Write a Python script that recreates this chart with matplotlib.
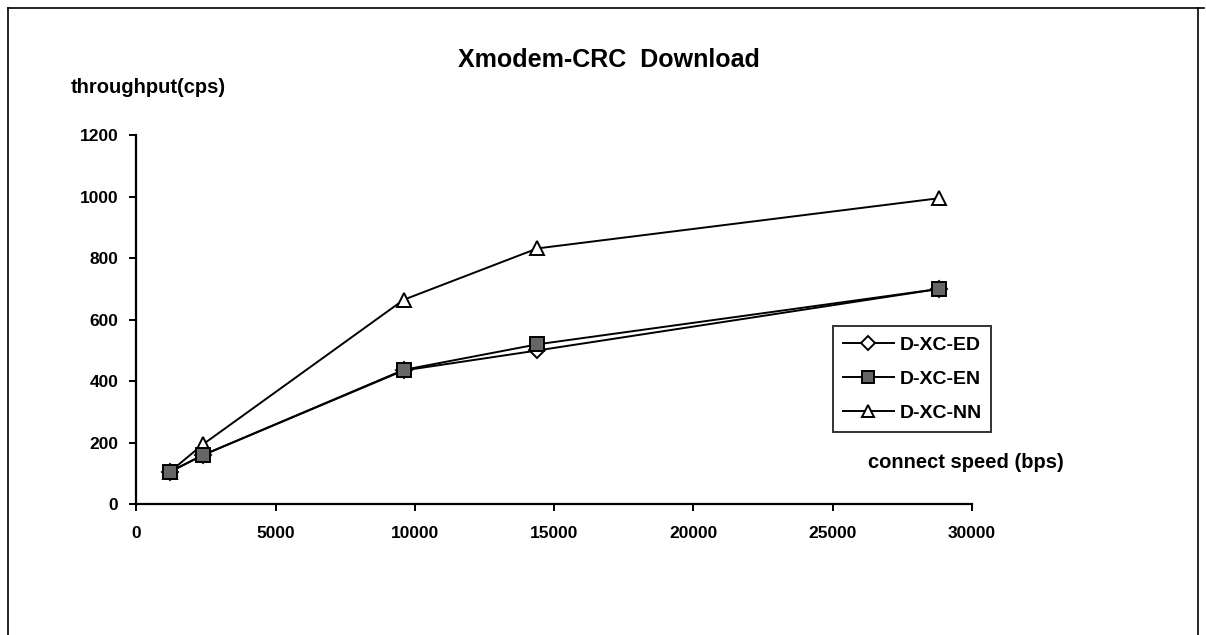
import matplotlib.pyplot as plt
from matplotlib.lines import Line2D

plt.rcParams['font.family'] = ['Liberation Sans', 'DejaVu Sans']
plt.rcParams['font.weight'] = 'bold'

# data
speeds = [1200, 2400, 9600, 14400, 28800]
ed = [105, 160, 435, 500, 700]
en = [105, 160, 437, 520, 700]
nn = [105, 195, 665, 832, 995]
x_ticks = [0, 5000, 10000, 15000, 20000, 25000, 30000]
y_ticks = [0, 200, 400, 600, 800, 1000, 1200]

fig = plt.figure(figsize=(12.06, 6.35), dpi=100)
ax = fig.add_axes([0.113, 0.206, 0.693, 0.581])

ax.plot(speeds, ed, color='black', lw=1.4, marker='D', ms=8,
        mfc='white', mec='black', mew=1.4, label='D-XC-ED', zorder=3)
ax.plot(speeds, en, color='black', lw=1.4, marker='s', ms=10,
        mfc='#666666', mec='black', mew=1.4, label='D-XC-EN', zorder=4)
ax.plot(speeds, nn, color='black', lw=1.4, marker='^', ms=10.5,
        mfc='white', mec='black', mew=1.4, label='D-XC-NN', zorder=3)

ax.set_xlim(0, 30000)
ax.set_ylim(0, 1200)
ax.set_xticks(x_ticks)
ax.set_yticks(y_ticks)
ax.tick_params(direction='out', length=5, width=1.4, labelsize=12.5, pad=11)
ax.tick_params(axis='y', pad=8)
for s in ['top', 'right']:
    ax.spines[s].set_visible(False)
for s in ['left', 'bottom']:
    ax.spines[s].set_linewidth(1.6)
for lbl in ax.get_xticklabels() + ax.get_yticklabels():
    lbl.set_fontweight('bold')

fig.text(0.505, 0.905, 'Xmodem-CRC  Download', ha='center', va='center',
         fontsize=18, fontweight='bold')
fig.text(0.059, 0.862, 'throughput(cps)', ha='left', va='center',
         fontsize=14.5, fontweight='bold')
fig.text(0.72, 0.271, 'connect speed (bps)', ha='left', va='center',
         fontsize=14.5, fontweight='bold')

leg = ax.legend(loc='upper left', bbox_to_anchor=(0.691, 0.486),
                bbox_transform=fig.transFigure, frameon=True, fancybox=False,
                edgecolor='black', fontsize=14, handlelength=2.6,
                borderpad=0.5, labelspacing=0.85, handletextpad=0.3,
                borderaxespad=0, markerscale=0.85)
leg.get_frame().set_linewidth(1.4)
for t in leg.get_texts():
    t.set_fontweight('bold')

# outer frame of the chart
frame = [Line2D([0.007, 0.007], [0.0, 0.987]),
         Line2D([0.007, 0.998], [0.987, 0.987]),
         Line2D([0.993, 0.993], [0.0, 0.987])]
for ln in frame:
    ln.set_transform(fig.transFigure)
    ln.set_color('black')
    ln.set_linewidth(1.2)
    fig.add_artist(ln)

fig.savefig('out.png', dpi=100)
